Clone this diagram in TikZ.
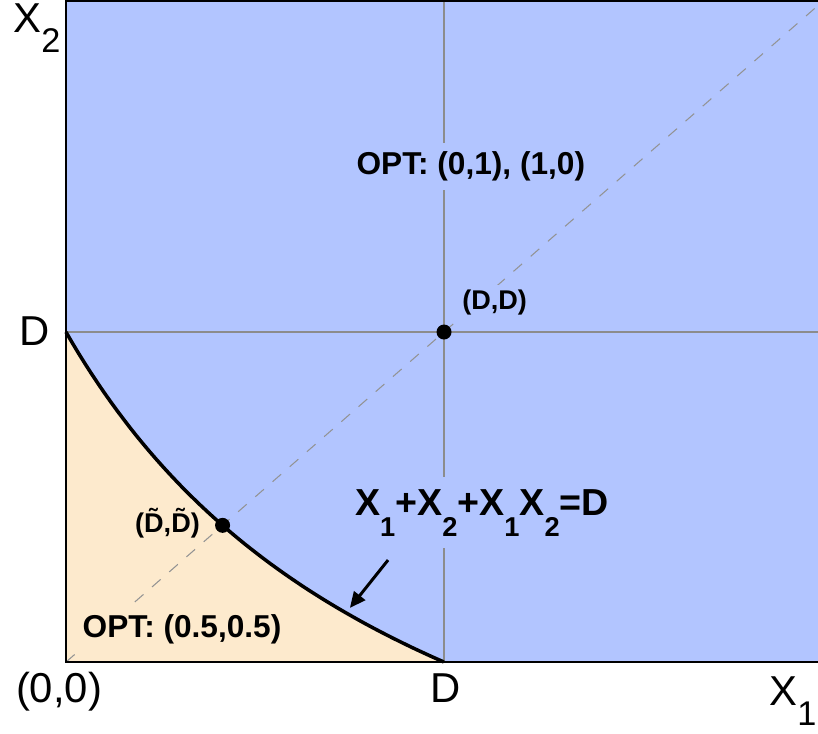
\documentclass[tikz,border=0pt]{standalone}
\usepackage{fontspec}
\setmainfont{Liberation Sans}
\usepackage{xcolor}
\usetikzlibrary{arrows.meta,positioning}

\definecolor{regionblue}{RGB}{178,197,255}
\definecolor{regiontan}{RGB}{253,234,205}
\newcommand{\dropsub}[3]{\raisebox{-#1}{\fontsize{#2}{#2}\selectfont #3}}

\begin{document}
\begin{tikzpicture}[x=7.56cm, y=6.6cm,
  axislbl/.style={font=\fontsize{23.8}{24}\selectfont, inner sep=0pt},
  optlbl/.style={font=\fontsize{18}{20}\selectfont\bfseries, fill=regionblue, inner sep=5pt},
  dotpt/.style={circle, fill=black, inner sep=0pt, minimum size=0.3cm}]
  \useasboundingbox (-0.1746,-0.2152) rectangle (1.9894,2.0061);
  % regions
  \fill[regionblue] (0,0) rectangle (1.9894,2.003);
  \fill[regiontan] (0,0) -- (0,1)
    -- plot[domain=0:1, samples=60] (\x,{(1-\x)/(1+\x)}) -- cycle;
  % guide lines
  \draw[gray!110!black, line width=0.85pt] (0,1) -- (1.9894,1);
  \draw[gray!110!black, line width=0.85pt] (1,0) -- (1,2.003);
  \draw[gray!85, line width=0.6pt, dash pattern=on 6.5pt off 6.5pt]
    (0,0) -- (1.9894,1.9894);
  % boundary curve
  \draw[black, line width=2pt]
    plot[domain=0:1, samples=60] (\x,{(1-\x)/(1+\x)});
  % axes
  \draw[black, line width=1.1pt] (0,2.006) -- (0,0) -- (1.9894,0);
  \draw[black, line width=1.1pt] (0,2.003) -- (1.9894,2.003);
  % points
  \node[dotpt] (DD) at (1,1) {};
  \node[dotpt] (Dt) at (0.4142,0.4142) {};
  % labels
  \node[optlbl] (opthigh) at (1.071,1.476) [anchor=base] {OPT: (0,1), (1,0)};
  \node[optlbl, fill=regiontan] (optlow) at (0.307,0.0758) [anchor=base] {OPT: (0.5,0.5)};
  \node[optlbl, font=\fontsize{15.4}{16}\selectfont\bfseries, inner sep=3pt]
    (DDlbl) at (1.134,1.067) [anchor=base] {(D,D)};
  \node[optlbl, fill=none, font=\fontsize{15.4}{16}\selectfont\bfseries, inner sep=2pt]
    (Dtlbl) at (0.2685,0.394) [anchor=base] {(\~D,\~D)};
  \node[optlbl, font=\fontsize{21.4}{22}\selectfont\bfseries, inner sep=7pt]
    (eqlbl) at (1.1005,0.4455) [anchor=base]
    {X\dropsub{12pt}{15.5}{1}+X\dropsub{12pt}{15.5}{2}+X\dropsub{12pt}{15.5}{1}X\dropsub{12pt}{15.5}{2}=D};
  \coordinate (arrtail) at (0.852,0.309);
  \coordinate (arrtip) at (0.751,0.164);
  \draw[-{Triangle[length=9pt,width=8pt]}, line width=1.7pt] (arrtail) -- (arrtip);
  % axis labels
  \node[axislbl, anchor=base west] (xtwo) at (-0.1402,1.909)
    {X\dropsub{11.9pt}{19.5}{2}};
  \node[axislbl, anchor=base] (Dy) at (-0.0833,0.9606) {D};
  \node[axislbl, anchor=base] (Dx) at (1.0053,-0.1212) {D};
  \node[axislbl, anchor=base] (orig) at (-0.0185,-0.1212) {(0,0)};
  \node[axislbl, anchor=base west] (xone) at (1.8598,-0.1303)
    {X\dropsub{11.9pt}{19.5}{1}};
\end{tikzpicture}
\end{document}
